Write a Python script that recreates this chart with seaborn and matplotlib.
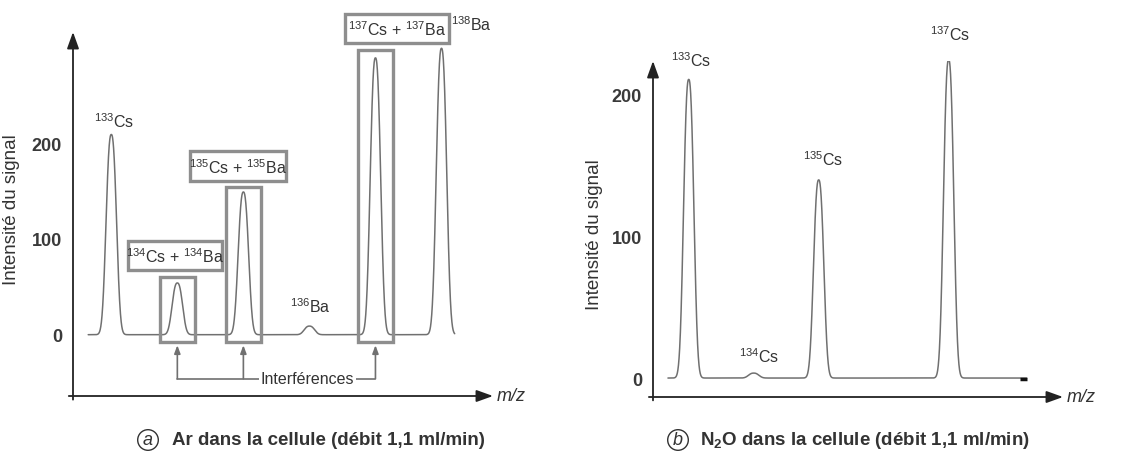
import numpy as np
import pandas as pd
import seaborn as sns
import matplotlib.pyplot as plt
from matplotlib.patches import Rectangle

# peak heights
left_masses = [133, 134, 135, 136, 137, 138]
left_heights = [209, 54, 149, 9, 289, 299]
right_masses = [133, 134, 135, 137]
right_heights = [211, 3.5, 140, 225]
interference_masses = [134, 135, 137]
interference_tops = [60, 154, 297]
box_labels = [r'$\mathregular{^{134}Cs}$ + $\mathregular{^{134}Ba}$',
              r'$\mathregular{^{135}Cs}$ + $\mathregular{^{135}Ba}$',
              r'$\mathregular{^{137}Cs}$ + $\mathregular{^{137}Ba}$']
y_ticks = [0, 100, 200]

sns.set_style('white')
plt.rcParams['font.family'] = ['Liberation Sans', 'DejaVu Sans']
plt.rcParams['mathtext.fontset'] = 'custom'
plt.rcParams['mathtext.rm'] = 'Liberation Sans'
plt.rcParams['mathtext.bf'] = 'Liberation Sans:bold'
plt.rcParams['mathtext.it'] = 'Liberation Sans:italic'
NARROW = ['Liberation Sans Narrow', 'Liberation Sans']
LINE = '#707070'
BOX = '#8e8e8e'
TXT = '#333333'


def spectrum(masses, heights, start, stop):
    x = np.linspace(start, stop, 3000)
    y = np.zeros_like(x)
    for m, h in zip(masses, heights):
        y += h * np.exp(-np.abs((x - m) / 0.1) ** 2.5)
    return pd.DataFrame({'mz': x, 'signal': y})


def setup(ax, xlim, ylim, label_xy):
    ax.set_xlim(xlim)
    ax.set_ylim(ylim)
    ax.set_facecolor('none')
    sns.despine(ax=ax, left=True, bottom=True)
    ax.set_xticks([])
    ax.set_yticks(y_ticks)
    ax.tick_params(axis='y', length=0, pad=8, labelsize=13, labelcolor='#3a3a3a')
    for t in ax.get_yticklabels():
        t.set_fontweight('bold')
    arrow = dict(arrowstyle='-|>,head_length=0.5,head_width=0.18', color='#222222',
                 lw=1.3, mutation_scale=20, shrinkA=0, shrinkB=0)
    ax.annotate('', xy=(1, 0), xytext=(-0.01, 0), xycoords='axes fraction', arrowprops=arrow)
    ax.annotate('', xy=(0, 1), xytext=(0, -0.01), xycoords='axes fraction', arrowprops=arrow)
    ax.text(1.008, 0, 'm/z', style='italic', fontsize=13, color=TXT,
            transform=ax.transAxes, ha='left', va='center')


W, H = 1131, 456
fig = plt.figure(figsize=(W / 100, H / 100), dpi=100)


def px_axes(x0, y_top, x1, y_bot):
    return fig.add_axes([x0 / W, 1 - y_bot / H, (x1 - x0) / W, (y_bot - y_top) / H])


def finish(ax, label_xy):
    ax.set_xlabel('')
    ax.set_ylabel('Intensité du signal', fontsize=13.5, color=TXT)
    ax.yaxis.set_label_coords(*label_xy)
    for t in ax.get_yticklabels():
        t.set_fontweight('bold')


# ---- (a) Ar ----
ax1 = px_axes(73, 33, 493, 397)
setup(ax1, (132.42, 138.78), (-64, 316), (-0.126, 0.514))
sns.lineplot(data=spectrum(left_masses, left_heights, 132.65, 138.2), x='mz', y='signal',
             ax=ax1, color=LINE, lw=1.1)
finish(ax1, (-0.126, 0.514))

for m, top in zip(interference_masses, interference_tops):
    ax1.add_patch(Rectangle((m - 0.27, -8), 0.53, top + 8, fill=False, ec=BOX, lw=2.4,
                            clip_on=False, zorder=3))

label_boxes = [(133.25, 68, 1.43, 30), (134.19, 160, 1.46, 32), (136.54, 305, 1.58, 30)]
for (bx, by, bw, bh), lab in zip(label_boxes, box_labels):
    ax1.add_patch(Rectangle((bx, by), bw, bh, fc='white', ec=BOX, lw=2.4, clip_on=False, zorder=3))
    ax1.text(bx + bw / 2, by + bh / 2 - 1, lab, fontsize=11.5, family=NARROW, color=TXT,
             ha='center', va='center', zorder=4, clip_on=False)

ax1.text(133.04, 223, r'$\mathregular{^{133}Cs}$', fontsize=11.5, family=NARROW, color=TXT,
         ha='center', va='center')
ax1.text(136.01, 30, r'$\mathregular{^{136}Ba}$', fontsize=11.5, family=NARROW, color=TXT,
         ha='center', va='center')
ax1.text(138.45, 325, r'$\mathregular{^{138}Ba}$', fontsize=11.5, family=NARROW, color=TXT,
         ha='center', va='center', clip_on=False)

# Interférences connectors
ax1.plot([interference_masses[0], interference_masses[-1]], [-46, -46], color=LINE, lw=1.2)
for m in interference_masses:
    ax1.annotate('', xy=(m, -11), xytext=(m, -46),
                 arrowprops=dict(arrowstyle='-|>,head_length=0.4,head_width=0.15', color=LINE,
                                 lw=1.2, mutation_scale=12, shrinkA=0, shrinkB=0))
ax1.text(135.97, -46, 'Interférences', fontsize=11.5, family=NARROW, color=TXT,
         ha='center', va='center', bbox=dict(fc='white', ec='none', pad=1.5))

# ---- (b) N2O ----
ax2 = px_axes(653, 62, 1063, 398)
setup(ax2, (132.45, 138.76), (-13.4, 224), (-0.122, 0.485))
sns.lineplot(data=spectrum(right_masses, right_heights, 132.68, 138.2), x='mz', y='signal',
             ax=ax2, color=LINE, lw=1.1)
ax2.plot([138.1, 138.2], [-1, -1], color='#111111', lw=2.5, solid_capstyle='butt')
finish(ax2, (-0.122, 0.485))

right_text = [(133.03, 225, '133'), (134.08, 15.5, '134'), (135.07, 155, '135'), (137.03, 243, '137')]
for x, y, iso in right_text:
    ax2.text(x, y, r'$\mathregular{^{%s}Cs}$' % iso, fontsize=11.5, family=NARROW, color=TXT,
             ha='center', va='center', clip_on=False)

# captions
circ = dict(boxstyle='circle,pad=0.1', fc='white', ec=TXT, lw=1)
fig.text(148 / W, 1 - 441 / H, 'a', style='italic', fontsize=13, color=TXT,
         ha='center', va='center', bbox=circ)
fig.text(172 / W, 1 - 441 / H, 'Ar dans la cellule (débit 1,1 ml/min)', fontsize=13.5,
         weight='bold', color=TXT, ha='left', va='center')
fig.text(678 / W, 1 - 441 / H, 'b', style='italic', fontsize=13, color=TXT,
         ha='center', va='center', bbox=circ)
fig.text(700 / W, 1 - 441 / H, r'N$\mathbf{_2}$O dans la cellule (débit 1,1 ml/min)',
         fontsize=13.5, weight='bold', color=TXT, ha='left', va='center')

fig.savefig('out.png', dpi=100)
